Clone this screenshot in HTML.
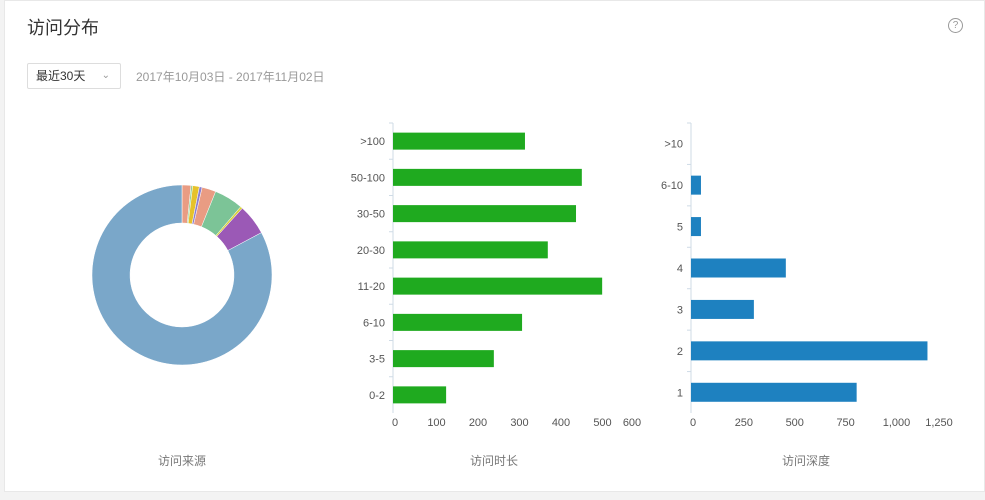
<!DOCTYPE html>
<html><head><meta charset="utf-8"><style>
body{margin:0;width:985px;height:500px;background:#f3f3f3;font-family:"Liberation Sans","Noto Sans CJK SC",sans-serif;overflow:hidden}
.card{position:absolute;left:4px;top:0;width:981px;height:492px;background:#fff;border:1px solid #e8e8e8;box-sizing:border-box}
.t{position:absolute;white-space:nowrap}
</style></head><body>
<div class="card"></div>
<div class="t" style="left:27px;top:14px;font-size:18px;color:#333">访问分布</div>
<div class="t" style="left:948px;top:18px;width:13px;height:13px;border:1px solid #999;border-radius:50%;font-size:10px;line-height:13px;text-align:center;color:#999">?</div>
<div class="t" style="left:27px;top:63px;width:94px;height:26px;border:1px solid #ddd;border-radius:2px;box-sizing:border-box;font-size:12px;color:#333;line-height:24px;padding-left:8px">最近30天<span style="position:absolute;right:10px;color:#999;font-size:10px">&#8964;</span></div>
<div class="t" style="left:136px;top:68px;font-size:12px;color:#999">2017年10月03日 - 2017年11月02日</div>
<svg id="s" width="985" height="500" style="position:absolute;left:0;top:0"></svg>
<script>
const sourceNames=["a","b","c","d","e","f","g","h","i"];
const sourceValues=[1.6,0.3,1.2,0.5,2.5,5.2,0.4,5.5,82.8];
const sourceColors=["#e99c83","#8fcf8f","#e6c22b","#8b7fd0","#e99c83","#7cc497","#d9d03a","#9b59b6","#7aa7c9"];
const durCats=[">100","50-100","30-50","20-30","11-20","6-10","3-5","0-2"];
const durValues=[318,455,441,373,504,311,243,128];
const durTicks=[0,100,200,300,400,500,600];
const depCats=[">10","6-10","5","4","3","2","1"];
const depValues=[0,49,49,466,309,1162,814];
const depTicks=[0,250,500,750,1000,1250];
const svg=document.getElementById('s');const NS="http://www.w3.org/2000/svg";
function el(tag,a,p){const e=document.createElementNS(NS,tag);for(const k in a)e.setAttribute(k,a[k]);(p||svg).appendChild(e);return e;}
function txt(x,y,s,anchor,size,color){const t=el('text',{x:x,y:y,'text-anchor':anchor,'font-size':size,fill:color,'font-family':'"Liberation Sans","Noto Sans CJK SC",sans-serif'});t.textContent=s;return t;}
const cx=182,cy=275,R=90,r=52;let tot=sourceValues.reduce((a,b)=>a+b,0),ang=0;
sourceValues.forEach((v,i)=>{const a0=ang,a1=ang+v/tot*2*Math.PI;ang=a1;
const p=(a,rr)=>[cx+rr*Math.sin(a),cy-rr*Math.cos(a)];const lg=a1-a0>Math.PI?1:0;
const [x0,y0]=p(a0,R),[x1,y1]=p(a1,R),[x2,y2]=p(a1,r),[x3,y3]=p(a0,r);
const e=el('path',{d:`M${x0},${y0}A${R},${R} 0 ${lg} 1 ${x1},${y1}L${x2},${y2}A${r},${r} 0 ${lg} 0 ${x3},${y3}Z`,fill:sourceColors[i],stroke:'#fff','stroke-width':0.5});

});
function bars(cats,vals,ticks,x0,pxPer,y0,y1,bh,color,pre,lastTickX){
 const band=(y1-y0)/cats.length;
 const ax=el('line',{x1:x0,y1:y0,x2:x0,y2:y1,stroke:'#cfdbe6'});
 
 
 cats.forEach((c,i)=>{const yc=y0+band*(i+0.5);
  el('line',{x1:x0-4,y1:y0+band*i,x2:x0,y2:y0+band*i,stroke:'#cfdbe6'});
  const b=el('rect',{x:x0,y:yc-bh/2,width:vals[i]*pxPer,height:bh,fill:color});
  
  
  const l=txt(x0-8,yc+4,c,'end',11,'#555');
  
  });
 ticks.forEach((t,i)=>{let x=x0+t*pxPer+2;if(i===ticks.length-1&&lastTickX)x=lastTickX;
  const l=txt(x,426,t.toLocaleString('en-US'),'middle',11,'#555');
  
  });
}
bars(durCats,durValues,durTicks,393,0.415,123,413,17,'#1faa1f','duration',632);
bars(depCats,depValues,depTicks,691,0.2035,123,413,19,'#1e81c0','depth',939);
[["访问来源",182,"source"],["访问时长",494,"duration"],["访问深度",806,"depth"]].forEach(a=>{const t=txt(a[1],465,a[0],'middle',12,'#777');

});
</script>
</body></html>
